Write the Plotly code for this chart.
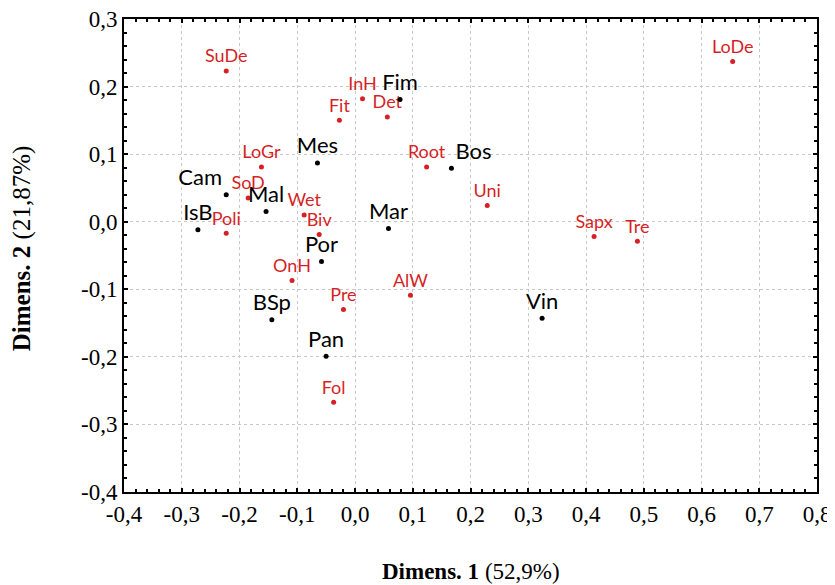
import plotly.graph_objects as go

# Sites (black)
site_names = ["Fim", "Mes", "Bos", "Cam", "Mal", "IsB", "Mar", "Por", "BSp", "Pan", "Vin"]
site_x = [0.078, -0.065, 0.167, -0.223, -0.154, -0.272, 0.058, -0.058, -0.144, -0.050, 0.324]
site_y = [0.181, 0.087, 0.079, 0.040, 0.015, -0.012, -0.010, -0.059, -0.145, -0.199, -0.143]
site_textpos = ["top center", "top center", "top right", "top left", "top center", "top center",
                "top center", "top center", "top center", "top center", "top center"]

# Traits (red)
trait_names = ["SuDe", "LoDe", "InH", "Fit", "Det", "LoGr", "Root", "SoD", "Uni", "Wet",
               "Poli", "Biv", "Sapx", "Tre", "OnH", "AlW", "Pre", "Fol"]
trait_x = [-0.223, 0.654, 0.013, -0.027, 0.056, -0.162, 0.124, -0.185, 0.229, -0.088,
           -0.223, -0.062, 0.414, 0.489, -0.109, 0.096, -0.020, -0.037]
trait_y = [0.223, 0.237, 0.182, 0.150, 0.155, 0.081, 0.081, 0.035, 0.024, 0.010,
           -0.017, -0.019, -0.022, -0.029, -0.087, -0.109, -0.130, -0.267]

x_ticks = [-0.4, -0.3, -0.2, -0.1, 0.0, 0.1, 0.2, 0.3, 0.4, 0.5, 0.6, 0.7, 0.8]
x_ticklabels = ["-0,4", "-0,3", "-0,2", "-0,1", "0,0", "0,1", "0,2", "0,3", "0,4", "0,5", "0,6", "0,7", "0,8"]
y_ticks = [-0.4, -0.3, -0.2, -0.1, 0.0, 0.1, 0.2, 0.3]
y_ticklabels = ["-0,4", "-0,3", "-0,2", "-0,1", "0,0", "0,1", "0,2", "0,3"]

RED = "#d61f26"
LABEL_FONT = "Lato, 'Noto Sans', sans-serif"
SERIF = "'Liberation Serif', 'Times New Roman', serif"

fig = go.Figure()
fig.add_trace(go.Scatter(
    x=trait_x, y=trait_y, mode="markers+text", text=trait_names,
    textposition="top center",
    marker=dict(color=RED, size=5),
    textfont=dict(family=LABEL_FONT, size=18, color=RED),
    showlegend=False, cliponaxis=False,
))
fig.add_trace(go.Scatter(
    x=site_x, y=site_y, mode="markers+text", text=site_names,
    textposition=site_textpos,
    marker=dict(color="black", size=5),
    textfont=dict(family=LABEL_FONT, size=22, color="black"),
    showlegend=False, cliponaxis=False,
))

axis_common = dict(
    showline=True, linecolor="black", linewidth=2, mirror="ticks",
    ticks="inside", ticklen=4, tickcolor="black", tickwidth=1.5,
    showgrid=True, gridcolor="#c8c8c8", gridwidth=1, griddash="dot",
    zeroline=False, ticklabeloverflow="allow",
    tickfont=dict(family=SERIF, size=23, color="black"),
    minor=dict(dtick=0.02, ticks="inside", ticklen=3, tickcolor="black", tickwidth=1.5, showgrid=False),
)

fig.update_xaxes(range=[-0.4, 0.8], tickvals=x_ticks, ticktext=x_ticklabels, **axis_common)
fig.update_yaxes(range=[-0.4, 0.3], tickvals=y_ticks, ticktext=y_ticklabels, **axis_common)

# the page body has an 8px margin, so the figure is 8px smaller and margins shifted
fig.update_layout(
    width=827, height=577,
    margin=dict(l=116, r=18, t=11, b=93, autoexpand=False),
    paper_bgcolor="white", plot_bgcolor="white",
    annotations=[
        dict(text="<b>Dimens. 1</b> (52,9%)", xref="paper", yref="paper",
             x=0.5, y=-0.168, xanchor="center", yanchor="middle", showarrow=False,
             font=dict(family=SERIF, size=23, color="black")),
        dict(text="<b>Dimens. 2</b> (21,87%)", xref="paper", yref="paper",
             x=-0.146, y=0.515, xanchor="center", yanchor="middle", showarrow=False,
             textangle=-90,
             font=dict(family=SERIF, size=25, color="black")),
    ],
)

fig.write_html("out.html")
